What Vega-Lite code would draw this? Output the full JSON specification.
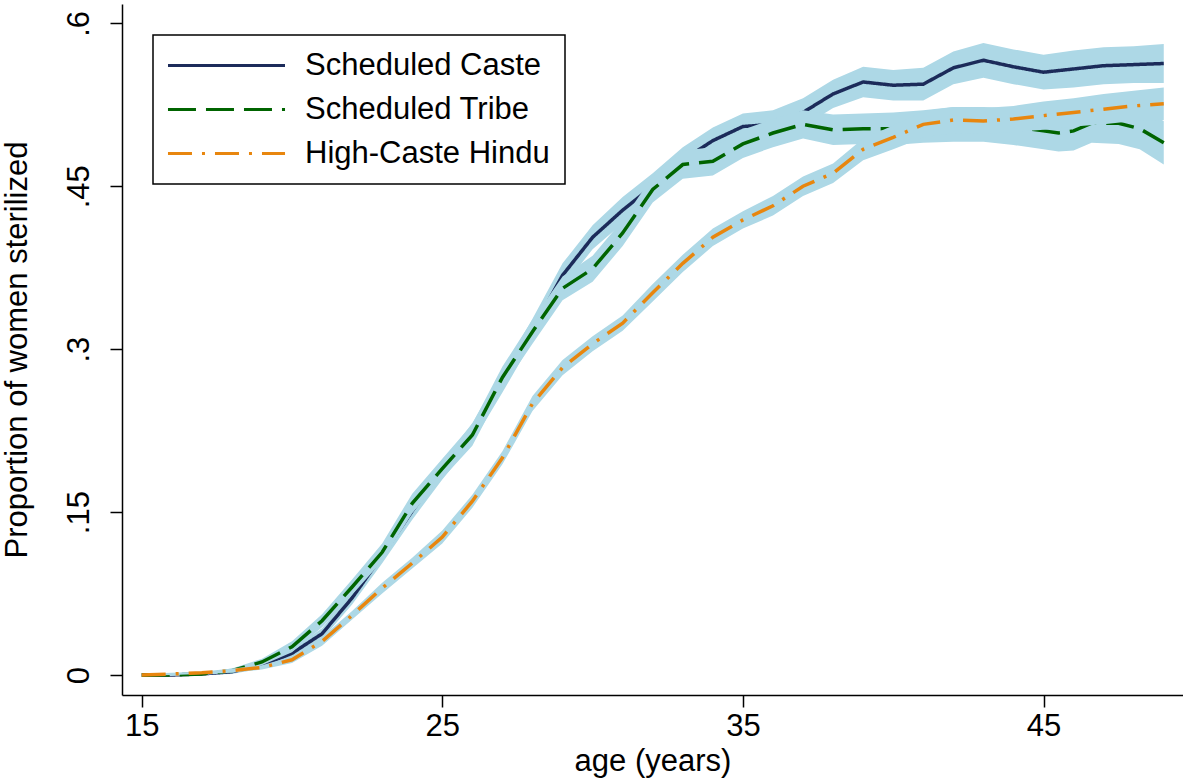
{
  "$schema": "https://vega.github.io/schema/vega-lite/v6.json",
  "width": 1061,
  "height": 691,
  "autosize": {"type": "none"},
  "padding": {"left": 122, "top": 4, "right": 0, "bottom": 84},
  "background": "white",
  "config": {
    "view": {"stroke": null},
    "font": "Liberation Sans",
    "axis": {
      "grid": false,
      "domainColor": "black",
      "domainWidth": 1.5,
      "tickColor": "black",
      "tickWidth": 1.5,
      "tickSize": 12,
      "labelFont": "Liberation Sans",
      "labelFontSize": 31,
      "labelColor": "black",
      "titleFont": "Liberation Sans",
      "titleFontSize": 31,
      "titleFontWeight": "normal",
      "titleColor": "black"
    },
    "legend": {"strokeWidth": 1.5}
  },
  "datasets": {
    "curves": [
      {"g": "Scheduled Caste", "age": 15, "p": 0, "lo": -0.001, "hi": 0.001},
      {"g": "Scheduled Caste", "age": 16, "p": 0, "lo": -0.001, "hi": 0.001},
      {"g": "Scheduled Caste", "age": 17, "p": 0.001, "lo": 0, "hi": 0.002},
      {"g": "Scheduled Caste", "age": 18, "p": 0.003, "lo": 0.001, "hi": 0.005},
      {"g": "Scheduled Caste", "age": 19, "p": 0.009, "lo": 0.006, "hi": 0.012},
      {"g": "Scheduled Caste", "age": 20, "p": 0.02, "lo": 0.016, "hi": 0.024},
      {"g": "Scheduled Caste", "age": 21, "p": 0.038, "lo": 0.033, "hi": 0.043},
      {"g": "Scheduled Caste", "age": 22, "p": 0.071, "lo": 0.065, "hi": 0.077},
      {"g": "Scheduled Caste", "age": 23, "p": 0.11, "lo": 0.103, "hi": 0.117},
      {"g": "Scheduled Caste", "age": 24, "p": 0.151, "lo": 0.143, "hi": 0.159},
      {"g": "Scheduled Caste", "age": 25, "p": 0.188, "lo": 0.18, "hi": 0.196},
      {"g": "Scheduled Caste", "age": 26, "p": 0.223, "lo": 0.214, "hi": 0.232},
      {"g": "Scheduled Caste", "age": 27, "p": 0.27, "lo": 0.26, "hi": 0.28},
      {"g": "Scheduled Caste", "age": 28, "p": 0.318, "lo": 0.308, "hi": 0.328},
      {"g": "Scheduled Caste", "age": 29, "p": 0.368, "lo": 0.357, "hi": 0.379},
      {"g": "Scheduled Caste", "age": 30, "p": 0.403, "lo": 0.392, "hi": 0.414},
      {"g": "Scheduled Caste", "age": 31, "p": 0.428, "lo": 0.416, "hi": 0.44},
      {"g": "Scheduled Caste", "age": 32, "p": 0.45, "lo": 0.438, "hi": 0.462},
      {"g": "Scheduled Caste", "age": 33, "p": 0.474, "lo": 0.462, "hi": 0.486},
      {"g": "Scheduled Caste", "age": 34, "p": 0.492, "lo": 0.48, "hi": 0.504},
      {"g": "Scheduled Caste", "age": 35, "p": 0.505, "lo": 0.493, "hi": 0.517},
      {"g": "Scheduled Caste", "age": 36, "p": 0.507, "lo": 0.494, "hi": 0.52},
      {"g": "Scheduled Caste", "age": 37, "p": 0.518, "lo": 0.505, "hi": 0.531},
      {"g": "Scheduled Caste", "age": 38, "p": 0.535, "lo": 0.522, "hi": 0.548},
      {"g": "Scheduled Caste", "age": 39, "p": 0.546, "lo": 0.532, "hi": 0.56},
      {"g": "Scheduled Caste", "age": 40, "p": 0.543, "lo": 0.529, "hi": 0.557},
      {"g": "Scheduled Caste", "age": 41, "p": 0.544, "lo": 0.529, "hi": 0.559},
      {"g": "Scheduled Caste", "age": 42, "p": 0.559, "lo": 0.544, "hi": 0.574},
      {"g": "Scheduled Caste", "age": 43, "p": 0.566, "lo": 0.55, "hi": 0.582},
      {"g": "Scheduled Caste", "age": 44, "p": 0.56, "lo": 0.544, "hi": 0.576},
      {"g": "Scheduled Caste", "age": 45, "p": 0.555, "lo": 0.539, "hi": 0.571},
      {"g": "Scheduled Caste", "age": 46, "p": 0.558, "lo": 0.541, "hi": 0.575},
      {"g": "Scheduled Caste", "age": 47, "p": 0.561, "lo": 0.544, "hi": 0.578},
      {"g": "Scheduled Caste", "age": 48, "p": 0.562, "lo": 0.545, "hi": 0.579},
      {"g": "Scheduled Caste", "age": 49, "p": 0.563, "lo": 0.545, "hi": 0.581},

      {"g": "Scheduled Tribe", "age": 15, "p": 0, "lo": -0.001, "hi": 0.001},
      {"g": "Scheduled Tribe", "age": 16, "p": 0, "lo": -0.001, "hi": 0.001},
      {"g": "Scheduled Tribe", "age": 17, "p": 0.001, "lo": 0, "hi": 0.002},
      {"g": "Scheduled Tribe", "age": 18, "p": 0.004, "lo": 0.002, "hi": 0.006},
      {"g": "Scheduled Tribe", "age": 19, "p": 0.012, "lo": 0.009, "hi": 0.015},
      {"g": "Scheduled Tribe", "age": 20, "p": 0.026, "lo": 0.021, "hi": 0.031},
      {"g": "Scheduled Tribe", "age": 21, "p": 0.05, "lo": 0.044, "hi": 0.056},
      {"g": "Scheduled Tribe", "age": 22, "p": 0.081, "lo": 0.074, "hi": 0.088},
      {"g": "Scheduled Tribe", "age": 23, "p": 0.113, "lo": 0.105, "hi": 0.121},
      {"g": "Scheduled Tribe", "age": 24, "p": 0.158, "lo": 0.149, "hi": 0.167},
      {"g": "Scheduled Tribe", "age": 25, "p": 0.19, "lo": 0.181, "hi": 0.199},
      {"g": "Scheduled Tribe", "age": 26, "p": 0.221, "lo": 0.211, "hi": 0.231},
      {"g": "Scheduled Tribe", "age": 27, "p": 0.274, "lo": 0.264, "hi": 0.284},
      {"g": "Scheduled Tribe", "age": 28, "p": 0.316, "lo": 0.305, "hi": 0.327},
      {"g": "Scheduled Tribe", "age": 29, "p": 0.356, "lo": 0.345, "hi": 0.367},
      {"g": "Scheduled Tribe", "age": 30, "p": 0.374, "lo": 0.362, "hi": 0.386},
      {"g": "Scheduled Tribe", "age": 31, "p": 0.407, "lo": 0.395, "hi": 0.419},
      {"g": "Scheduled Tribe", "age": 32, "p": 0.447, "lo": 0.435, "hi": 0.459},
      {"g": "Scheduled Tribe", "age": 33, "p": 0.47, "lo": 0.457, "hi": 0.483},
      {"g": "Scheduled Tribe", "age": 34, "p": 0.473, "lo": 0.46, "hi": 0.486},
      {"g": "Scheduled Tribe", "age": 35, "p": 0.489, "lo": 0.476, "hi": 0.502},
      {"g": "Scheduled Tribe", "age": 36, "p": 0.499, "lo": 0.486, "hi": 0.512},
      {"g": "Scheduled Tribe", "age": 37, "p": 0.507, "lo": 0.494, "hi": 0.52},
      {"g": "Scheduled Tribe", "age": 38, "p": 0.502, "lo": 0.488, "hi": 0.516},
      {"g": "Scheduled Tribe", "age": 39, "p": 0.503, "lo": 0.489, "hi": 0.517},
      {"g": "Scheduled Tribe", "age": 40, "p": 0.503, "lo": 0.488, "hi": 0.518},
      {"g": "Scheduled Tribe", "age": 41, "p": 0.505, "lo": 0.49, "hi": 0.52},
      {"g": "Scheduled Tribe", "age": 42, "p": 0.507, "lo": 0.491, "hi": 0.523},
      {"g": "Scheduled Tribe", "age": 43, "p": 0.507, "lo": 0.491, "hi": 0.523},
      {"g": "Scheduled Tribe", "age": 44, "p": 0.505, "lo": 0.488, "hi": 0.522},
      {"g": "Scheduled Tribe", "age": 45, "p": 0.501, "lo": 0.484, "hi": 0.518},
      {"g": "Scheduled Tribe", "age": 45.5, "p": 0.499, "lo": 0.482, "hi": 0.516},
      {"g": "Scheduled Tribe", "age": 46, "p": 0.501, "lo": 0.483, "hi": 0.519},
      {"g": "Scheduled Tribe", "age": 46.6, "p": 0.508, "lo": 0.49, "hi": 0.526},
      {"g": "Scheduled Tribe", "age": 47.5, "p": 0.508, "lo": 0.489, "hi": 0.527},
      {"g": "Scheduled Tribe", "age": 48.2, "p": 0.503, "lo": 0.484, "hi": 0.522},
      {"g": "Scheduled Tribe", "age": 49, "p": 0.49, "lo": 0.47, "hi": 0.51},

      {"g": "High-Caste Hindu", "age": 15, "p": 0, "lo": -0.001, "hi": 0.001},
      {"g": "High-Caste Hindu", "age": 16, "p": 0.001, "lo": 0, "hi": 0.002},
      {"g": "High-Caste Hindu", "age": 17, "p": 0.002, "lo": 0.001, "hi": 0.003},
      {"g": "High-Caste Hindu", "age": 18, "p": 0.004, "lo": 0.002, "hi": 0.006},
      {"g": "High-Caste Hindu", "age": 19, "p": 0.007, "lo": 0.005, "hi": 0.009},
      {"g": "High-Caste Hindu", "age": 20, "p": 0.014, "lo": 0.011, "hi": 0.017},
      {"g": "High-Caste Hindu", "age": 21, "p": 0.031, "lo": 0.027, "hi": 0.035},
      {"g": "High-Caste Hindu", "age": 22, "p": 0.055, "lo": 0.051, "hi": 0.059},
      {"g": "High-Caste Hindu", "age": 23, "p": 0.08, "lo": 0.075, "hi": 0.085},
      {"g": "High-Caste Hindu", "age": 24, "p": 0.103, "lo": 0.098, "hi": 0.108},
      {"g": "High-Caste Hindu", "age": 25, "p": 0.127, "lo": 0.121, "hi": 0.133},
      {"g": "High-Caste Hindu", "age": 26, "p": 0.16, "lo": 0.154, "hi": 0.166},
      {"g": "High-Caste Hindu", "age": 27, "p": 0.2, "lo": 0.194, "hi": 0.206},
      {"g": "High-Caste Hindu", "age": 28, "p": 0.25, "lo": 0.243, "hi": 0.257},
      {"g": "High-Caste Hindu", "age": 29, "p": 0.283, "lo": 0.276, "hi": 0.29},
      {"g": "High-Caste Hindu", "age": 30, "p": 0.305, "lo": 0.298, "hi": 0.312},
      {"g": "High-Caste Hindu", "age": 31, "p": 0.324, "lo": 0.317, "hi": 0.331},
      {"g": "High-Caste Hindu", "age": 32, "p": 0.352, "lo": 0.344, "hi": 0.36},
      {"g": "High-Caste Hindu", "age": 33, "p": 0.379, "lo": 0.371, "hi": 0.387},
      {"g": "High-Caste Hindu", "age": 34, "p": 0.403, "lo": 0.395, "hi": 0.411},
      {"g": "High-Caste Hindu", "age": 35, "p": 0.419, "lo": 0.411, "hi": 0.427},
      {"g": "High-Caste Hindu", "age": 36, "p": 0.432, "lo": 0.423, "hi": 0.441},
      {"g": "High-Caste Hindu", "age": 37, "p": 0.45, "lo": 0.441, "hi": 0.459},
      {"g": "High-Caste Hindu", "age": 38, "p": 0.462, "lo": 0.453, "hi": 0.471},
      {"g": "High-Caste Hindu", "age": 39, "p": 0.484, "lo": 0.474, "hi": 0.494},
      {"g": "High-Caste Hindu", "age": 40, "p": 0.495, "lo": 0.484, "hi": 0.506},
      {"g": "High-Caste Hindu", "age": 41, "p": 0.507, "lo": 0.495, "hi": 0.519},
      {"g": "High-Caste Hindu", "age": 42, "p": 0.511, "lo": 0.499, "hi": 0.523},
      {"g": "High-Caste Hindu", "age": 43, "p": 0.51, "lo": 0.498, "hi": 0.522},
      {"g": "High-Caste Hindu", "age": 44, "p": 0.512, "lo": 0.5, "hi": 0.524},
      {"g": "High-Caste Hindu", "age": 45, "p": 0.515, "lo": 0.502, "hi": 0.528},
      {"g": "High-Caste Hindu", "age": 46, "p": 0.518, "lo": 0.505, "hi": 0.531},
      {"g": "High-Caste Hindu", "age": 47, "p": 0.521, "lo": 0.507, "hi": 0.535},
      {"g": "High-Caste Hindu", "age": 48, "p": 0.524, "lo": 0.51, "hi": 0.538},
      {"g": "High-Caste Hindu", "age": 49, "p": 0.526, "lo": 0.511, "hi": 0.541}
    ]
  },
  "data": {"name": "curves"},
  "encoding": {
    "x": {
      "field": "age",
      "type": "quantitative",
      "scale": {"domain": [14.345, 49.64], "nice": false, "zero": false},
      "axis": {"values": [15, 25, 35, 45], "title": "age (years)", "labelPadding": 4, "titlePadding": 5}
    }
  },
  "layer": [
    {
      "transform": [{"filter": "datum.g == 'Scheduled Caste'"}],
      "mark": {"type": "area", "color": "#add8e6", "opacity": 1},
      "encoding": {
        "y": {"field": "lo", "type": "quantitative", "scale": {"domain": [-0.0184, 0.6178], "nice": false, "zero": false},
          "axis": {"values": [0, 0.15, 0.3, 0.45, 0.6], "title": "Proportion of women sterilized", "labelAngle": 270, "labelAlign": "center", "labelBaseline": "bottom", "labelPadding": 15, "titlePadding": 30,
            "labelExpr": "datum.value == 0 ? '0' : replace(format(datum.value, '.2~f'), '0.', '.')"}},
        "y2": {"field": "hi"}
      }
    },
    {
      "transform": [{"filter": "datum.g == 'Scheduled Caste'"}],
      "mark": {"type": "line", "strokeWidth": 3.5},
      "encoding": {
        "y": {"field": "p", "type": "quantitative"},
        "color": {"field": "g", "type": "nominal", "scale": {"domain": ["Scheduled Caste", "Scheduled Tribe", "High-Caste Hindu"], "range": ["#1c2b5a", "#006400", "#e8860e"]}, "legend": {"orient": "none", "legendX": 31, "legendY": 31, "title": null, "labelFontSize": 31, "labelFont": "Liberation Sans", "labelColor": "black", "labelLimit": 600, "symbolType": "M-5,0H5", "symbolSize": 548, "symbolStrokeWidth": 3, "symbolOffset": 43, "labelOffset": 63, "strokeColor": "black", "fillColor": "white", "padding": 15, "rowPadding": 12}},
        "strokeDash": {"field": "g", "type": "nominal", "scale": {"domain": ["Scheduled Caste", "Scheduled Tribe", "High-Caste Hindu"], "range": [[1, 0], [28, 10], [24, 10, 3, 10]]}, "legend": {"orient": "none", "legendX": 31, "legendY": 31, "title": null}}
      }
    },
    {
      "transform": [{"filter": "datum.g == 'Scheduled Tribe'"}],
      "mark": {"type": "area", "color": "#add8e6", "opacity": 1},
      "encoding": {
        "y": {"field": "lo", "type": "quantitative"},
        "y2": {"field": "hi"}
      }
    },
    {
      "transform": [{"filter": "datum.g == 'Scheduled Tribe'"}],
      "mark": {"type": "line", "strokeWidth": 3.5},
      "encoding": {
        "y": {"field": "p", "type": "quantitative"},
        "color": {"field": "g", "type": "nominal"},
        "strokeDash": {"field": "g", "type": "nominal"}
      }
    },
    {
      "transform": [{"filter": "datum.g == 'High-Caste Hindu'"}],
      "mark": {"type": "area", "color": "#add8e6", "opacity": 1},
      "encoding": {
        "y": {"field": "lo", "type": "quantitative"},
        "y2": {"field": "hi"}
      }
    },
    {
      "transform": [{"filter": "datum.g == 'High-Caste Hindu'"}],
      "mark": {"type": "line", "strokeWidth": 3.5},
      "encoding": {
        "y": {"field": "p", "type": "quantitative"},
        "color": {"field": "g", "type": "nominal"},
        "strokeDash": {"field": "g", "type": "nominal"}
      }
    }
  ]
}
